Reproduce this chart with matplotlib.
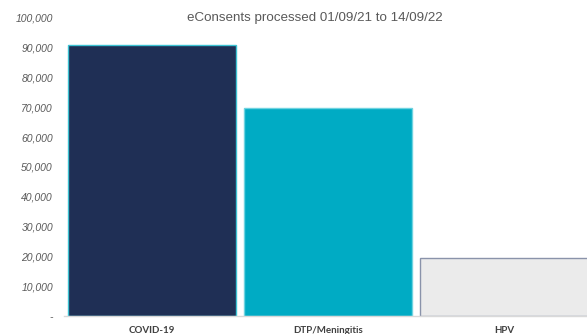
import matplotlib
matplotlib.use('Agg')
import matplotlib.pyplot as plt
from matplotlib.ticker import FuncFormatter

# data
categories = ['COVID-19', 'DTP/Meningitis', 'HPV']
values = [91000, 69800, 19500]
bar_colors = ['#1F2F55', '#00ABC4', '#EBEBEB']
edge_colors = ['#3CC3D3', '#6FD3E0', '#8A93AA']
yticks = list(range(0, 100001, 10000))

fig = plt.figure(figsize=(5.87, 3.34), dpi=100)
ax = fig.add_axes([64 / 587, 1 - 316 / 334, 1 - 64 / 587, (316 - 18) / 334])

x = list(range(len(categories)))
ax.bar(x, values, width=0.955, color=bar_colors, edgecolor=edge_colors, linewidth=1.0, zorder=2)

ax.set_ylim(0, 100000)
ax.set_xlim(-0.5, 2.47)
ax.set_yticks(yticks)
ax.yaxis.set_major_formatter(FuncFormatter(lambda v, p: '-' if v == 0 else f'{int(v):,}'))
for lab in ax.get_yticklabels():
    lab.set_fontstyle('italic')
    lab.set_family('Liberation Sans')
    lab.set_fontsize(7.5)
    lab.set_color('#595959')
ax.tick_params(axis='y', length=0, pad=8)

ax.set_xticks(x)
ax.set_xticklabels(categories, fontsize=7, fontweight='bold', color='#404040', family='Lato')
ax.tick_params(axis='x', length=0, pad=7)

for s in ['top', 'right', 'left']:
    ax.spines[s].set_visible(False)
ax.spines['bottom'].set_color('#D9D9D9')
ax.spines['bottom'].set_linewidth(1)

fig.text(315 / 587, 1 - 18 / 334, 'eConsents processed 01/09/21 to 14/09/22',
         ha='center', va='center', fontsize=9.6, color='#595959', family='Liberation Sans')

fig.savefig('out.png', dpi=100)
